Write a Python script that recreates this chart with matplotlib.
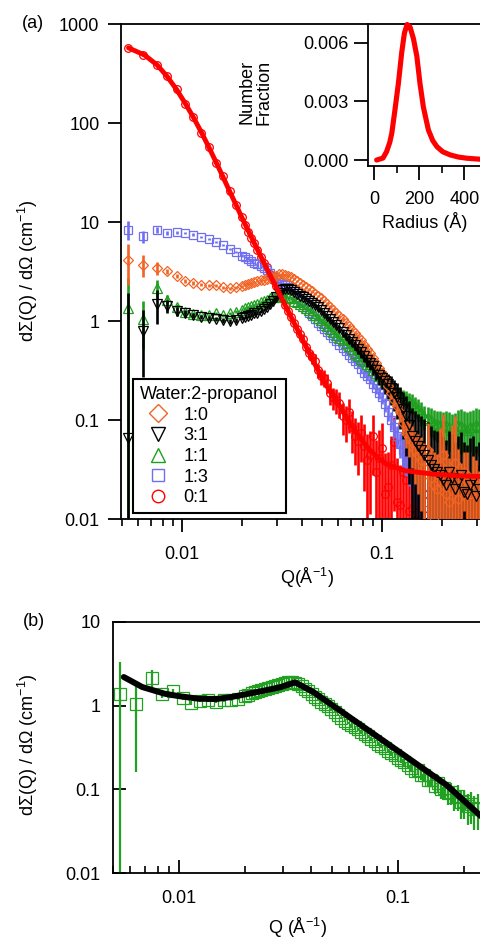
import numpy as np
import matplotlib
matplotlib.use('Agg')
import matplotlib.pyplot as plt
from matplotlib import ticker
from matplotlib.lines import Line2D

plt.rcParams['font.family'] = ['Liberation Sans', 'DejaVu Sans']
plt.rcParams['mathtext.default'] = 'regular'

# ---------------- data, panel (a) ----------------
q_a = [0.0054, 0.0064, 0.0075, 0.0084, 0.0094, 0.0104, 0.0114, 0.0125, 0.0136, 0.0148, 0.0160, 0.0173, 0.0186,
       0.0200, 0.0207, 0.0215, 0.0222, 0.0230, 0.0238, 0.0247, 0.0256, 0.0265, 0.0274,
       0.0284, 0.0294, 0.0305, 0.0316, 0.0327, 0.0338, 0.0350, 0.0363, 0.0376, 0.0389,
       0.0403, 0.0417, 0.0432, 0.0447, 0.0463, 0.0480, 0.0497, 0.0515, 0.0533, 0.0552,
       0.0571, 0.0592, 0.0613, 0.0635, 0.0657, 0.0681, 0.0705, 0.0730, 0.0756, 0.0783,
       0.0810, 0.0839, 0.0869, 0.0900, 0.0932, 0.0965, 0.0999, 0.1035, 0.107, 0.111,
       0.115, 0.119, 0.123, 0.127, 0.132, 0.137, 0.142, 0.147, 0.152, 0.157,
       0.163, 0.169, 0.175, 0.181, 0.188, 0.194, 0.201, 0.208, 0.216, 0.223,
       0.231, 0.239, 0.248, 0.257, 0.266, 0.275, 0.285, 0.295, 0.306]

# 1:0 water:2-propanol
i_10 = [4.2, 3.7, 3.45, 3.2, 2.85, 2.55, 2.45, 2.35, 2.3, 2.3, 2.2, 2.15, 2.2,
        2.25, 2.35, 2.4, 2.42, 2.5, 2.55, 2.6, 2.62, 2.7, 2.78,
        2.85, 2.9, 3.0, 2.98, 2.95, 2.9, 2.8, 2.7, 2.55, 2.45,
        2.35, 2.2, 2.1, 2.0, 1.9, 1.8, 1.7, 1.6, 1.5, 1.4,
        1.3, 1.22, 1.12, 1.05, 0.97, 0.9, 0.82, 0.76, 0.70, 0.64,
        0.58, 0.53, 0.48, 0.43, 0.38, 0.34, 0.30, 0.26, 0.22, 0.19,
        0.16, 0.14, 0.12, 0.095, 0.075, 0.068, 0.060, 0.05, 0.045, 0.04,
        0.033, 0.05, 0.026, 0.022, 0.020, 0.035, 0.045, 0.018, 0.015, 0.03,
        0.037, 0.016, 0.022, 0.03, 0.028, 0.018, 0.024, 0.025, 0.018]
e_10 = [0.45, 0.25, 0.15, 0.06, 0.05, 0.04, 0.04, 0.03, 0.03, 0.03, 0.03, 0.03, 0.03,
        0.03, 0.03, 0.03, 0.03, 0.03, 0.03, 0.03, 0.03, 0.03, 0.03,
        0.03, 0.03, 0.03, 0.03, 0.03, 0.03, 0.03, 0.03, 0.03, 0.03,
        0.03, 0.03, 0.03, 0.03, 0.03, 0.03, 0.03, 0.03, 0.04, 0.04,
        0.04, 0.04, 0.04, 0.05, 0.05, 0.05, 0.05, 0.06, 0.06, 0.07,
        0.07, 0.08, 0.08, 0.09, 0.09, 0.1, 0.1, 0.11, 0.12, 0.14,
        0.15, 0.18, 0.2, 0.25, 0.3, 0.38, 0.45, 0.55, 0.6, 0.7,
        0.8, 0.9, 1.0, 1.2, 1.3, 1.4, 1.6, 1.8, 1.8, 2.0,
        2.0, 2.2, 0.7, 0.6, 0.7, 0.5, 0.8, 0.6, 0.7]

# 3:1
i_31 = [0.066, 0.79, 1.5, 1.42, 1.26, 1.2, 1.15, 1.1, 1.08, 1.06, 1.02, 1.0, 1.02,
        1.08, 1.1, 1.12, 1.16, 1.2, 1.22, 1.26, 1.32, 1.4, 1.5,
        1.6, 1.75, 1.95, 2.05, 2.1, 2.1, 2.05, 1.98, 1.9, 1.82,
        1.75, 1.68, 1.6, 1.52, 1.45, 1.38, 1.3, 1.2, 1.12, 1.05,
        0.98, 0.92, 0.85, 0.78, 0.72, 0.67, 0.62, 0.57, 0.53, 0.49,
        0.45, 0.41, 0.38, 0.35, 0.32, 0.29, 0.27, 0.25, 0.23, 0.21,
        0.19, 0.17, 0.15, 0.13, 0.11, 0.09, 0.07, 0.062, 0.055, 0.05,
        0.045, 0.04, 0.035, 0.032, 0.030, 0.028, 0.025, 0.022, 0.030, 0.026,
        0.020, 0.024, 0.028, 0.019, 0.018, 0.022, 0.025, 0.017, 0.020]
e_31 = [28, 0.65, 0.38, 0.15, 0.1, 0.08, 0.06, 0.05, 0.05, 0.05, 0.05, 0.05, 0.05,
        0.04, 0.04, 0.04, 0.04, 0.04, 0.04, 0.04, 0.04, 0.04, 0.04,
        0.04, 0.04, 0.04, 0.04, 0.04, 0.04, 0.04, 0.04, 0.04, 0.04,
        0.05, 0.05, 0.05, 0.05, 0.05, 0.05, 0.05, 0.06, 0.06, 0.06,
        0.06, 0.07, 0.08, 0.08, 0.09, 0.09, 0.10, 0.11, 0.12, 0.13,
        0.14, 0.15, 0.16, 0.18, 0.20, 0.22, 0.24, 0.26, 0.28, 0.32,
        0.35, 0.4, 0.45, 0.5, 0.6, 0.75, 0.9, 1.0, 1.1, 1.2,
        1.3, 1.4, 1.5, 1.5, 1.6, 1.7, 1.8, 1.9, 1.6, 1.8,
        2.0, 1.9, 1.7, 2.2, 2.1, 2.0, 1.8, 2.2, 2.0]

# 1:1
i_11 = [1.36, 1.06, 2.17, 1.66, 1.4, 1.25, 1.18, 1.15, 1.15, 1.2, 1.15, 1.2, 1.25,
        1.3, 1.35, 1.4, 1.42, 1.45, 1.5, 1.55, 1.6, 1.65, 1.7,
        1.75, 1.78, 1.8, 1.8, 1.78, 1.74, 1.7, 1.62, 1.55, 1.48,
        1.42, 1.36, 1.3, 1.22, 1.15, 1.08, 1.02, 0.96, 0.9, 0.84,
        0.78, 0.73, 0.68, 0.64, 0.6, 0.56, 0.52, 0.48, 0.45, 0.42,
        0.40, 0.37, 0.35, 0.32, 0.30, 0.28, 0.26, 0.245, 0.23, 0.215,
        0.20, 0.19, 0.18, 0.17, 0.165, 0.155, 0.15, 0.14, 0.13, 0.12,
        0.11, 0.105, 0.10, 0.095, 0.092, 0.09, 0.087, 0.09, 0.085, 0.08,
        0.082, 0.09, 0.088, 0.083, 0.080, 0.086, 0.085, 0.09, 0.087]
e_11 = [1.0, 0.5, 0.2, 0.1, 0.07, 0.05, 0.05, 0.04, 0.04, 0.04, 0.04, 0.04, 0.04,
        0.03, 0.03, 0.03, 0.03, 0.03, 0.03, 0.03, 0.03, 0.03, 0.03,
        0.03, 0.03, 0.03, 0.03, 0.03, 0.03, 0.03, 0.03, 0.03, 0.03,
        0.03, 0.03, 0.03, 0.03, 0.03, 0.04, 0.04, 0.04, 0.04, 0.04,
        0.04, 0.05, 0.05, 0.05, 0.05, 0.06, 0.06, 0.06, 0.06, 0.07,
        0.07, 0.08, 0.08, 0.09, 0.09, 0.1, 0.1, 0.11, 0.12, 0.13,
        0.14, 0.15, 0.16, 0.18, 0.2, 0.21, 0.22, 0.24, 0.25, 0.27,
        0.28, 0.3, 0.32, 0.34, 0.35, 0.38, 0.4, 0.38, 0.42, 0.45,
        0.45, 0.4, 0.48, 0.5, 0.5, 0.45, 0.5, 0.48, 0.5]

# 1:3
i_13 = [8.4, 7.2, 8.3, 7.8, 7.9, 7.8, 7.5, 7.1, 6.8, 6.3, 5.9, 5.4, 5.0,
        4.6, 4.45, 4.3, 4.1, 3.9, 3.75, 3.6, 3.45, 3.3, 3.05,
        2.8, 2.65, 2.5, 2.4, 2.3, 2.2, 2.1, 1.92, 1.75, 1.6,
        1.45, 1.33, 1.22, 1.13, 1.05, 0.97, 0.90, 0.84, 0.78, 0.73,
        0.68, 0.63, 0.58, 0.54, 0.50, 0.46, 0.43, 0.40, 0.37, 0.33,
        0.30, 0.28, 0.26, 0.235, 0.21, 0.19, 0.17, 0.145, 0.12, 0.10,
        0.085, 0.07, 0.058, 0.05, 0.042, 0.036, 0.030, 0.027, 0.024, 0.021,
        0.018, 0.015, 0.012, 0.010, 0.008, 0.007, 0.006, 0.0055, 0.005, 0.0045,
        0.004, 0.004, 0.004, 0.0035, 0.003, 0.003, 0.003, 0.003, 0.003]
e_13 = [0.22, 0.14, 0.07, 0.04, 0.03, 0.03, 0.03, 0.03, 0.03, 0.03, 0.03, 0.03, 0.03,
        0.03, 0.03, 0.03, 0.03, 0.03, 0.03, 0.03, 0.03, 0.03, 0.03,
        0.03, 0.03, 0.03, 0.03, 0.03, 0.03, 0.03, 0.03, 0.03, 0.03,
        0.03, 0.03, 0.03, 0.03, 0.03, 0.04, 0.04, 0.04, 0.04, 0.05,
        0.05, 0.05, 0.05, 0.06, 0.06, 0.06, 0.07, 0.07, 0.08, 0.08,
        0.09, 0.09, 0.1, 0.11, 0.12, 0.13, 0.14, 0.16, 0.18, 0.2,
        0.22, 0.25, 0.28, 0.32, 0.35, 0.4, 0.45, 0.5, 0.55, 0.6,
        0.7, 0.8, 0.9, 1.0, 1.1, 1.2, 1.3, 1.4, 1.5, 1.6,
        1.6, 1.7, 1.8, 1.8, 1.9, 2.0, 2.0, 2.0, 2.0]

# 0:1
i_01 = [580, 492, 388, 298, 220, 157, 116, 80, 58, 40, 29.5, 20.5, 15,
        11.2, 9.5, 8.0, 7.0, 6.2, 5.3, 4.5, 3.9, 3.5, 3.0,
        2.6, 2.25, 1.95, 1.7, 1.45, 1.28, 1.1, 0.97, 0.83, 0.74,
        0.66, 0.55, 0.48, 0.44, 0.40, 0.32, 0.28, 0.27, 0.24, 0.19,
        0.17, 0.16, 0.15, 0.11, 0.10, 0.12, 0.085, 0.07, 0.062, 0.075,
        0.055, 0.04, 0.045, 0.07, 0.030, 0.042, 0.052, 0.018, 0.021, 0.035,
        0.060, 0.015, 0.014, 0.03, 0.025, 0.012, 0.013, 0.022, 0.019, 0.011,
        0.011, 0.018, 0.024, 0.012, 0.009, 0.015, 0.016, 0.010, 0.012, 0.02,
        0.020, 0.011, 0.008, 0.014, 0.015, 0.01, 0.010, 0.012, 0.013]
e_01 = [0.03, 0.03, 0.03, 0.03, 0.03, 0.03, 0.03, 0.03, 0.03, 0.03, 0.03, 0.03, 0.03,
        0.04, 0.04, 0.04, 0.05, 0.05, 0.05, 0.05, 0.06, 0.06, 0.06,
        0.06, 0.07, 0.07, 0.08, 0.08, 0.09, 0.09, 0.1, 0.1, 0.11,
        0.12, 0.13, 0.14, 0.15, 0.16, 0.17, 0.18, 0.2, 0.22, 0.24,
        0.26, 0.28, 0.30, 0.35, 0.40, 0.38, 0.45, 0.5, 0.55, 0.5,
        0.65, 0.8, 0.75, 0.6, 1.1, 0.9, 0.8, 1.6, 1.3, 1.0,
        0.8, 1.8, 1.5, 1.1, 1.1, 1.6, 1.6, 1.3, 1.3, 1.8,
        1.8, 1.3, 1.2, 1.6, 2.0, 1.5, 1.5, 1.9, 1.7, 1.3,
        1.3, 1.8, 2.2, 1.6, 1.6, 1.9, 1.9, 1.7, 1.7]

# fit for 0:1
fit_a_q = [0.0054, 0.0065, 0.0075, 0.0084, 0.0094, 0.0104, 0.0114, 0.0125, 0.0136, 0.0148, 0.0160,
           0.0173, 0.0186, 0.0200, 0.0230, 0.0265, 0.0305, 0.0350, 0.0420, 0.0509, 0.0617, 0.0700,
           0.0780, 0.0840, 0.0940, 0.1055, 0.130, 0.180, 0.250, 0.320]
fit_a_i = [578, 489, 389, 300, 219, 158, 115, 81, 57.8, 40.5, 29,
           20.6, 15.1, 11.0, 6.14, 3.43, 1.95, 1.12, 0.54, 0.25, 0.138, 0.09,
           0.066, 0.054, 0.043, 0.036, 0.031, 0.0286, 0.0274, 0.027]

# inset: size distribution
radius = [12, 40, 56, 70, 79, 93, 108, 123, 135, 147, 160, 175, 190, 204, 219, 241, 260, 279, 305, 338, 375, 412, 471]
number_frac = [0.0, 0.0001, 0.00043, 0.0009, 0.00137, 0.00256, 0.0039, 0.0055, 0.0065, 0.00693, 0.0068, 0.0062,
               0.0053, 0.0039, 0.0027, 0.00154, 0.0010, 0.00068, 0.00042, 0.00026, 0.00015, 0.00009, 0.00004]

# ---------------- data, panel (b) ----------------
q_b = q_a[:84]
i_b = [1.39, 1.06, 2.14, 1.39, 1.48, 1.25, 1.08, 1.15, 1.16, 1.12, 1.16, 1.18, 1.21,
       1.3, 1.34, 1.4, 1.45, 1.5, 1.54, 1.58, 1.62, 1.67, 1.72,
       1.78, 1.83, 1.88, 1.9, 1.9, 1.86, 1.8, 1.7, 1.6, 1.48,
       1.38, 1.28, 1.2, 1.12, 1.05, 0.98, 0.92, 0.85, 0.78, 0.72,
       0.66, 0.62, 0.58, 0.55, 0.52, 0.49, 0.46, 0.43, 0.40, 0.375,
       0.35, 0.33, 0.31, 0.29, 0.27, 0.255, 0.24, 0.225, 0.21, 0.195,
       0.18, 0.165, 0.17, 0.15, 0.15, 0.13, 0.13, 0.11, 0.12, 0.10,
       0.105, 0.09, 0.092, 0.08, 0.083, 0.07, 0.072, 0.063, 0.066, 0.058,
       0.060]
e_b = [1.4, 0.85, 0.23, 0.12, 0.08, 0.06, 0.05, 0.04, 0.04, 0.04, 0.04, 0.04, 0.04,
       0.03, 0.03, 0.03, 0.03, 0.03, 0.03, 0.03, 0.03, 0.03, 0.03,
       0.03, 0.03, 0.03, 0.03, 0.03, 0.03, 0.03, 0.03, 0.03, 0.03,
       0.03, 0.03, 0.03, 0.03, 0.03, 0.03, 0.03, 0.03, 0.03, 0.03,
       0.03, 0.03, 0.04, 0.04, 0.04, 0.04, 0.04, 0.05, 0.05, 0.05,
       0.05, 0.06, 0.06, 0.06, 0.07, 0.07, 0.08, 0.08, 0.09, 0.1,
       0.11, 0.12, 0.13, 0.14, 0.15, 0.16, 0.18, 0.2, 0.22, 0.24,
       0.26, 0.28, 0.3, 0.32, 0.34, 0.36, 0.38, 0.4, 0.42, 0.44,
       0.45]
fit_b_q = [0.0056, 0.0068, 0.0086, 0.0100, 0.0123, 0.0148, 0.0174, 0.0205, 0.0247, 0.0290, 0.0339,
           0.0410, 0.0583, 0.0829, 0.1175, 0.1667, 0.2366, 0.2450]
fit_b_i = [2.2, 1.67, 1.39, 1.3, 1.21, 1.2, 1.27, 1.38, 1.52, 1.66, 1.9,
           1.46, 0.77, 0.405, 0.214, 0.1125, 0.049, 0.045]

labels = ['1:0', '3:1', '1:1', '1:3', '0:1']

ORANGE = '#f06424'
GREEN = '#1f9e1f'
BLUE = '#6f6ff0'
RED = '#ff0000'

W, H = 481.0, 940.0


def fx(x):
    return x / W


def fy(y):
    return 1 - y / H


def draw(ax, q, i, rel, color, marker, ms, z_bar, z_mark, elw=1.9):
    q = np.array(q)
    i = np.array(i)
    err = i * np.array(rel)
    ax.errorbar(q, i, yerr=err, fmt='none', ecolor=color, elinewidth=elw, capsize=0, zorder=z_bar)
    ax.plot(q, i, ls='none', marker=marker, ms=ms, mfc='none', mec=color, mew=0.9, zorder=z_mark)


def sci_fmt(v, p):
    return '%g' % v


fig = plt.figure(figsize=(4.81, 9.4), dpi=100)

# ---------------- panel (a) ----------------
ax = fig.add_axes([fx(121), fy(519.3), (W - 121) / W, (519.3 - 24.3) / H])
ax.set_xscale('log')
ax.set_yscale('log')

draw(ax, q_a, i_01, e_01, RED, 'o', 5.5, 2, 2.5)
draw(ax, q_a, i_13, e_13, BLUE, 's', 5.2, 3, 3.5)
draw(ax, q_a, i_11, e_11, GREEN, '^', 6.5, 4, 4.5)
draw(ax, q_a, i_31, e_31, 'black', 'v', 6.5, 5, 6.5)
draw(ax, q_a, i_10, e_10, ORANGE, 'D', 5.5, 5.5, 6)
ax.plot(fit_a_q, fit_a_i, color=RED, lw=3.5, zorder=8, solid_capstyle='round')

ax.set_xlim(0.004955, 0.3126)
ax.set_ylim(0.01, 1000)
ax.xaxis.set_major_locator(ticker.LogLocator(base=10, numticks=10))
ax.xaxis.set_minor_locator(ticker.LogLocator(base=10, subs=np.arange(2, 10), numticks=20))
ax.xaxis.set_major_formatter(ticker.FuncFormatter(sci_fmt))
ax.xaxis.set_minor_formatter(ticker.NullFormatter())
ax.yaxis.set_major_locator(ticker.LogLocator(base=10, numticks=10))
ax.yaxis.set_minor_locator(ticker.NullLocator())
ax.yaxis.set_major_formatter(ticker.FuncFormatter(sci_fmt))
ax.spines['right'].set_visible(False)
for s in ['left', 'bottom', 'top']:
    ax.spines[s].set_linewidth(1.3)
ax.tick_params(axis='both', which='major', direction='out', length=9.5, width=1.3, labelsize=13)
ax.tick_params(axis='x', which='major', pad=10)
ax.tick_params(axis='y', which='major', pad=6)
ax.tick_params(axis='x', which='minor', direction='out', length=5, width=1.2)
ax.tick_params(top=False, right=False, which='both')

handles = [
    Line2D([], [], ls='none', marker='D', ms=9.5, mfc='none', mec=ORANGE, mew=1),
    Line2D([], [], ls='none', marker='v', ms=10, mfc='none', mec='black', mew=1),
    Line2D([], [], ls='none', marker='^', ms=10, mfc='none', mec=GREEN, mew=1),
    Line2D([], [], ls='none', marker='s', ms=9, mfc='none', mec=BLUE, mew=1),
    Line2D([], [], ls='none', marker='o', ms=9, mfc='none', mec=RED, mew=1),
]
leg = ax.legend(handles, labels, title='Water:2-propanol', loc='lower left',
                bbox_to_anchor=(0.033, 0.012), borderaxespad=0, fontsize=13, title_fontsize=13,
                fancybox=False, framealpha=1, edgecolor='black', handlelength=2.0,
                handletextpad=0.4, labelspacing=0.2, borderpad=0.4, alignment='left')
leg.get_frame().set_linewidth(1.5)
leg.set_zorder(20)

# ---------------- inset ----------------
axi = fig.add_axes([fx(368.3), fy(165.7), (W - 368.3) / W, (165.7 - 24.3) / H])
axi.patch.set_alpha(0)
axi.plot(radius, number_frac, color=RED, lw=3.7, clip_on=False, solid_capstyle='round')
axi.set_xlim(-25, 474)
axi.set_ylim(-0.00029, 0.00694)
axi.xaxis.set_major_locator(ticker.MultipleLocator(200))
axi.xaxis.set_minor_locator(ticker.MultipleLocator(100))
axi.yaxis.set_major_locator(ticker.FixedLocator([0, 0.003, 0.006]))
axi.yaxis.set_major_formatter(ticker.FormatStrFormatter('%.3f'))
axi.xaxis.set_major_formatter(ticker.FormatStrFormatter('%d'))
axi.spines['right'].set_visible(False)
axi.spines['top'].set_visible(False)
axi.spines['left'].set_linewidth(1.3)
axi.spines['bottom'].set_linewidth(1.3)
axi.tick_params(axis='both', which='major', direction='out', length=10, width=1.3, labelsize=13)
axi.tick_params(axis='y', pad=4)
axi.tick_params(axis='x', pad=8)
axi.tick_params(axis='x', which='minor', direction='out', length=5, width=1.2)

fig.text(fx(256), fy(92), 'Number\nFraction', rotation=90, ha='center', va='center',
         multialignment='center', fontsize=13, linespacing=1.0)
fig.text(fx(425), fy(222), 'Radius (Å)', ha='center', va='center', fontsize=13)

# ---------------- panel (b) ----------------
bx = fig.add_axes([fx(113), fy(873), (W - 113) / W, (873 - 622) / H])
bx.set_xscale('log')
bx.set_yscale('log')
draw(bx, q_b, i_b, e_b, '#22a022', 's', 9, 2, 2.5, elw=1.6)
bx.plot(fit_b_q, fit_b_i, color='black', lw=4.3, zorder=5, solid_capstyle='round')
bx.set_xlim(0.005, 0.2393)
bx.set_ylim(0.01, 10)
bx.xaxis.set_major_locator(ticker.LogLocator(base=10, numticks=10))
bx.xaxis.set_minor_locator(ticker.LogLocator(base=10, subs=np.arange(2, 10), numticks=20))
bx.xaxis.set_major_formatter(ticker.FuncFormatter(sci_fmt))
bx.xaxis.set_minor_formatter(ticker.NullFormatter())
bx.yaxis.set_major_locator(ticker.LogLocator(base=10, numticks=10))
bx.yaxis.set_minor_locator(ticker.NullLocator())
bx.yaxis.set_major_formatter(ticker.FuncFormatter(sci_fmt))
bx.spines['right'].set_visible(False)
for s in ['left', 'bottom', 'top']:
    bx.spines[s].set_linewidth(1.3)
bx.tick_params(axis='both', which='major', direction='in', length=9.5, width=1.3, labelsize=13)
bx.tick_params(axis='x', which='major', pad=12)
bx.tick_params(axis='y', which='major', pad=9)
bx.tick_params(axis='x', which='minor', direction='in', length=5, width=1.2)
bx.tick_params(top=False, right=False, which='both')

# ---------------- labels ----------------
ylab = 'dΣ(Q) / dΩ (cm$^{-1}$)'
fig.text(fx(33), fy(23), '(a)', ha='center', va='center', fontsize=13)
fig.text(fx(34), fy(622), '(b)', ha='center', va='center', fontsize=13)
fig.text(fx(28), fy(271), ylab, rotation=90, ha='center', va='center', fontsize=13)
fig.text(fx(28), fy(745), ylab, rotation=90, ha='center', va='center', fontsize=13)
fig.text(fx(307), fy(578), 'Q(Å$^{-1}$)', ha='center', va='center', fontsize=13)
fig.text(fx(297), fy(928), 'Q (Å$^{-1}$)', ha='center', va='center', fontsize=13)

fig.savefig('out.png', dpi=100)
